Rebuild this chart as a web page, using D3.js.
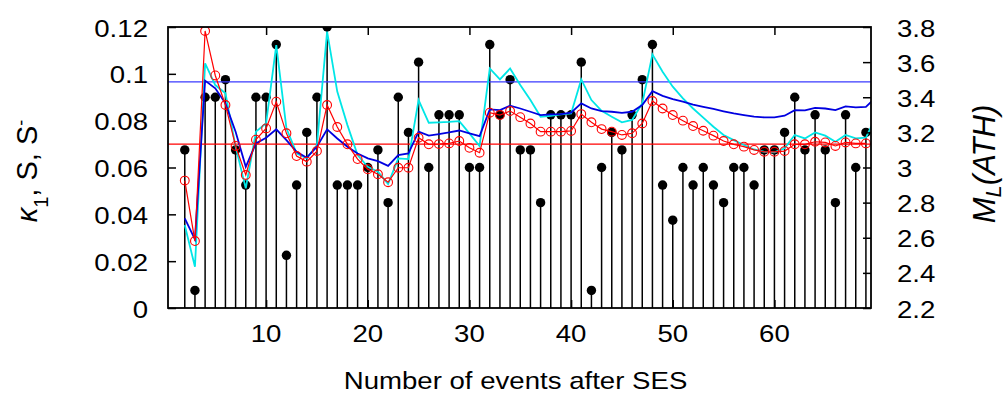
<!DOCTYPE html>
<html>
<head>
<meta charset="utf-8">
<script src="https://cdn.jsdelivr.net/npm/d3@7"></script>
<style>
    body { margin: 0; background: #fff; }
    text { font-family: "Liberation Sans", Arial, Helvetica, sans-serif; fill: #000; }
</style>
</head>
<body>
<div id="chart"></div>
<script>

// event index after the SES
let events = [2, 3, 4, 5, 6, 7, 8, 9, 10, 11, 12, 13, 14, 15, 16, 17, 18, 19, 20, 21,
    22, 23, 24, 25, 26, 27, 28, 29, 30, 31, 32, 33, 34, 35, 36, 37, 38, 39, 40, 41,
    42, 43, 44, 45, 46, 47, 48, 49, 50, 51, 52, 53, 54, 55, 56, 57, 58, 59, 60, 61,
    62, 63, 64, 65, 66, 67, 68, 69];

// magnitudes M_L(ATH), drawn as impulses on the right axis
let magnitudes = [3.1, 2.3, 3.4, 3.4, 3.5, 3.1, 2.9, 3.4, 3.4, 3.7, 2.5, 2.9, 3.2, 3.4, 3.8, 2.9, 2.9, 2.9, 3.0, 3.1,
    2.8, 3.4, 3.2, 3.6, 3.0, 3.3, 3.3, 3.3, 3.0, 3.0, 3.7, 3.3, 3.5, 3.1, 3.1, 2.8, 3.3, 3.3, 3.3, 3.6,
    2.3, 3.0, 3.2, 3.1, 3.3, 3.5, 3.7, 2.9, 2.7, 3.0, 2.9, 3.0, 2.9, 2.8, 3.0, 3.0, 2.9, 3.1, 3.1, 3.2,
    3.4, 3.1, 3.3, 3.1, 2.8, 3.3, 3.0, 3.2];

// kappa_1 (red, open circles)
let kappa1 = [0.0544, 0.0286, 0.1183, 0.0993, 0.0867, 0.0692, 0.0568, 0.0719, 0.0767, 0.0881,
    0.0746, 0.0649, 0.0625, 0.0670, 0.0867, 0.0773, 0.0699, 0.0636, 0.0593, 0.0571,
    0.0537, 0.0599, 0.0599, 0.0727, 0.0699, 0.0700, 0.0703, 0.0713, 0.0684, 0.0663,
    0.0834, 0.0824, 0.0841, 0.0815, 0.0788, 0.0753, 0.0753, 0.0753, 0.0756, 0.0828,
    0.0793, 0.0764, 0.0753, 0.0739, 0.0746, 0.0788, 0.0884, 0.0852, 0.0824, 0.0800,
    0.0777, 0.0757, 0.0736, 0.0713, 0.0699, 0.0689, 0.0675, 0.0667, 0.0667, 0.0670,
    0.0699, 0.0699, 0.0710, 0.0707, 0.0692, 0.0707, 0.0703, 0.0703];

// entropy S (blue) and S_- (cyan), one more event than the impulses (clipped at the frame)
let lineEvents = [2, 3, 4, 5, 6, 7, 8, 9, 10, 11, 12, 13, 14, 15, 16, 17, 18, 19, 20, 21,
    22, 23, 24, 25, 26, 27, 28, 29, 30, 31, 32, 33, 34, 35, 36, 37, 38, 39, 40, 41,
    42, 43, 44, 45, 46, 47, 48, 49, 50, 51, 52, 53, 54, 55, 56, 57, 58, 59, 60, 61,
    62, 63, 64, 65, 66, 67, 68, 69, 70];

let entropyS = [0.0383, 0.0293, 0.0971, 0.0938, 0.0874, 0.0753, 0.0603, 0.0703, 0.0727, 0.0763,
    0.0717, 0.0667, 0.0642, 0.0689, 0.0763, 0.0724, 0.0689, 0.0660, 0.0639, 0.0627,
    0.0607, 0.0653, 0.0660, 0.0753, 0.0736, 0.0743, 0.0750, 0.0758, 0.0746, 0.0734,
    0.0848, 0.0845, 0.0864, 0.0852, 0.0838, 0.0824, 0.0827, 0.0828, 0.0834, 0.0874,
    0.0852, 0.0841, 0.0838, 0.0833, 0.0838, 0.0867, 0.0926, 0.0906, 0.0892, 0.0881,
    0.0869, 0.0859, 0.0850, 0.0840, 0.0831, 0.0824, 0.0817, 0.0814, 0.0814, 0.0821,
    0.0845, 0.0844, 0.0855, 0.0852, 0.0845, 0.0861, 0.0857, 0.0859, 0.0900];

let entropySminus = [0.0354, 0.0176, 0.1045, 0.0952, 0.0917, 0.0689, 0.0511, 0.0753, 0.0789, 0.1123,
    0.0767, 0.0660, 0.0639, 0.0696, 0.1180, 0.0924, 0.0781, 0.0653, 0.0603, 0.0582,
    0.0530, 0.0639, 0.0636, 0.0888, 0.0791, 0.0793, 0.0795, 0.0798, 0.0746, 0.0692,
    0.1023, 0.0976, 0.1023, 0.0952, 0.0888, 0.0817, 0.0821, 0.0827, 0.0831, 0.0976,
    0.0888, 0.0842, 0.0817, 0.0793, 0.0803, 0.0874, 0.1083, 0.1009, 0.0945, 0.0895,
    0.0852, 0.0813, 0.0774, 0.0739, 0.0717, 0.0696, 0.0677, 0.0667, 0.0665, 0.0682,
    0.0739, 0.0724, 0.0750, 0.0736, 0.0710, 0.0739, 0.0724, 0.0727, 0.0818];

// reference levels
let levelS = 0.0966;
let levelKappa = 0.070;

// tick labels
let xTicks = [10, 20, 30, 40, 50, 60];
let yTicks = [0, 0.02, 0.04, 0.06, 0.08, 0.1, 0.12];
let y2Ticks = [2.2, 2.4, 2.6, 2.8, 3, 3.2, 3.4, 3.6, 3.8];


class StemVis {

    constructor(parentElement) {
        this.parentElement = parentElement;
        this.initVis();
    }

    initVis() {
        let vis = this;

        vis.width = 1008;
        vis.height = 394;
        vis.margin = {top: 27, right: 137, bottom: 86, left: 168};
        vis.innerW = vis.width - vis.margin.left - vis.margin.right;
        vis.innerH = vis.height - vis.margin.top - vis.margin.bottom;
        vis.stretch = 1.15;

        vis.svg = d3.select("#" + vis.parentElement).append("svg")
            .attr("width", vis.width)
            .attr("height", vis.height);

        vis.g = vis.svg.append("g")
            .attr("transform", `translate(${vis.margin.left}, ${vis.margin.top})`);

        vis.svg.append("clipPath").attr("id", "plot-clip")
            .append("rect")
            .attr("width", vis.innerW)
            .attr("height", vis.innerH);

        // scales
        vis.x = d3.scaleLinear().domain([0.35, 69.5]).range([0, vis.innerW]);
        vis.y = d3.scaleLinear().domain([0, 0.12]).range([vis.innerH, 0]);
        vis.y2 = d3.scaleLinear().domain([2.2, 3.8]).range([vis.innerH, 0]);

        vis.wrangleData();
    }

    wrangleData() {
        let vis = this;
        vis.stems = events.map((e, i) => ({x: e, m: magnitudes[i]}));
        vis.kappa = events.map((e, i) => ({x: e, v: kappa1[i]}));
        vis.sLine = lineEvents.map((e, i) => ({x: e, v: entropyS[i]}));
        vis.sMinusLine = lineEvents.map((e, i) => ({x: e, v: entropySminus[i]}));
        vis.updateVis();
    }

    updateVis() {
        let vis = this;
        let plot = vis.g.append("g").attr("clip-path", "url(#plot-clip)");

        // impulses + filled dots
        plot.selectAll("line.stem")
            .data(vis.stems)
            .enter().append("line")
            .attr("class", "stem")
            .attr("x1", d => vis.x(d.x))
            .attr("x2", d => vis.x(d.x))
            .attr("y1", d => vis.y2(d.m))
            .attr("y2", vis.innerH)
            .attr("stroke", "#000")
            .attr("stroke-width", 1.5);

        plot.selectAll("circle.dot")
            .data(vis.stems)
            .enter().append("circle")
            .attr("class", "dot")
            .attr("cx", d => vis.x(d.x))
            .attr("cy", d => vis.y2(d.m))
            .attr("r", 4.7)
            .attr("fill", "#000");

        // horizontal reference lines
        plot.append("line")
            .attr("x1", 0).attr("x2", vis.innerW)
            .attr("y1", vis.y(levelS)).attr("y2", vis.y(levelS))
            .attr("stroke", "#3a3aff").attr("stroke-width", 1.2);
        plot.append("line")
            .attr("x1", 0).attr("x2", vis.innerW)
            .attr("y1", vis.y(levelKappa)).attr("y2", vis.y(levelKappa))
            .attr("stroke", "#ff0000").attr("stroke-width", 1.2);

        let line = d3.line()
            .x(d => vis.x(d.x))
            .y(d => vis.y(d.v));

        plot.append("path")
            .datum(vis.sMinusLine)
            .attr("d", line)
            .attr("fill", "none")
            .attr("stroke", "#00e6e6")
            .attr("stroke-width", 1.8);

        plot.append("path")
            .datum(vis.sLine)
            .attr("d", line)
            .attr("fill", "none")
            .attr("stroke", "#0000e0")
            .attr("stroke-width", 1.8);

        plot.append("path")
            .datum(vis.kappa)
            .attr("d", line)
            .attr("fill", "none")
            .attr("stroke", "#ff0000")
            .attr("stroke-width", 1.2);

        plot.selectAll("circle.kappa")
            .data(vis.kappa)
            .enter().append("circle")
            .attr("class", "kappa")
            .attr("cx", d => vis.x(d.x))
            .attr("cy", d => vis.y(d.v))
            .attr("r", 4.4)
            .attr("fill", "none")
            .attr("stroke", "#ff0000")
            .attr("stroke-width", 1.1);

        // axes: ticks point inward, labels drawn separately
        let tickLen = 8;
        vis.g.append("g")
            .call(d3.axisRight(vis.y).tickValues(yTicks).tickSize(tickLen).tickFormat(""))
            .call(g => g.select(".domain").remove());
        vis.g.append("g")
            .attr("transform", `translate(${vis.innerW}, 0)`)
            .call(d3.axisLeft(vis.y2).tickValues(y2Ticks).tickSize(tickLen).tickFormat(""))
            .call(g => g.select(".domain").remove());
        vis.g.append("g")
            .call(d3.axisBottom(vis.x).tickValues(xTicks).tickSize(tickLen).tickFormat(""))
            .call(g => g.select(".domain").remove());
        vis.g.append("g")
            .attr("transform", `translate(0, ${vis.innerH})`)
            .call(d3.axisTop(vis.x).tickValues(xTicks).tickSize(tickLen).tickFormat(""))
            .call(g => g.select(".domain").remove());
        vis.g.selectAll(".tick line").attr("stroke", "#000").attr("stroke-width", 1.5);

        // frame
        vis.g.append("rect")
            .attr("width", vis.innerW)
            .attr("height", vis.innerH)
            .attr("fill", "none")
            .attr("stroke", "#000")
            .attr("stroke-width", 1.8);

        // tick labels
        let s = vis.stretch;
        vis.g.selectAll("text.ylab")
            .data(yTicks)
            .enter().append("text")
            .attr("class", "ylab")
            .attr("transform", d => `translate(-20, ${vis.y(d) + 9.5}) scale(${s},1)`)
            .attr("text-anchor", "end")
            .style("font-size", "24px")
            .text(d => d3.format("~g")(d));

        vis.g.selectAll("text.y2lab")
            .data(y2Ticks)
            .enter().append("text")
            .attr("class", "y2lab")
            .attr("transform", d => `translate(${vis.innerW + 26}, ${vis.y2(d) + 9.5}) scale(${s},1)`)
            .attr("text-anchor", "start")
            .style("font-size", "24px")
            .text(d => d3.format("~g")(d));

        vis.g.selectAll("text.xlab")
            .data(xTicks)
            .enter().append("text")
            .attr("class", "xlab")
            .attr("transform", d => `translate(${vis.x(d)}, ${vis.innerH + 34}) scale(${s},1)`)
            .attr("text-anchor", "middle")
            .style("font-size", "24px")
            .text(d => d);

        // axis titles
        vis.svg.append("text")
            .attr("transform", `translate(${vis.margin.left + vis.innerW / 2 - 4}, 389) scale(${s},1)`)
            .attr("text-anchor", "middle")
            .style("font-size", "24px")
            .text("Number of events after SES");

        let yTitle = vis.svg.append("text")
            .attr("transform", `translate(37, 171) rotate(-90)`)
            .attr("text-anchor", "middle")
            .style("font-size", "29px");
        yTitle.append("tspan").style("font-style", "italic").text("κ");
        yTitle.append("tspan").attr("baseline-shift", "sub").style("font-size", "20px").text("1");
        yTitle.append("tspan").text(", S, S");
        yTitle.append("tspan").attr("baseline-shift", "super").style("font-size", "18px").text("-");

        let y2Title = vis.svg.append("text")
            .attr("transform", `translate(995, 164) rotate(-90)`)
            .attr("text-anchor", "middle")
            .style("font-size", "31px")
            .style("font-style", "italic");
        y2Title.append("tspan").text("M");
        y2Title.append("tspan").attr("baseline-shift", "-6").style("font-size", "22px").text("L");
        y2Title.append("tspan").attr("baseline-shift", "0").text("(ATH)");
    }
}

let stemVis = new StemVis("chart");

</script>
</body>
</html>
